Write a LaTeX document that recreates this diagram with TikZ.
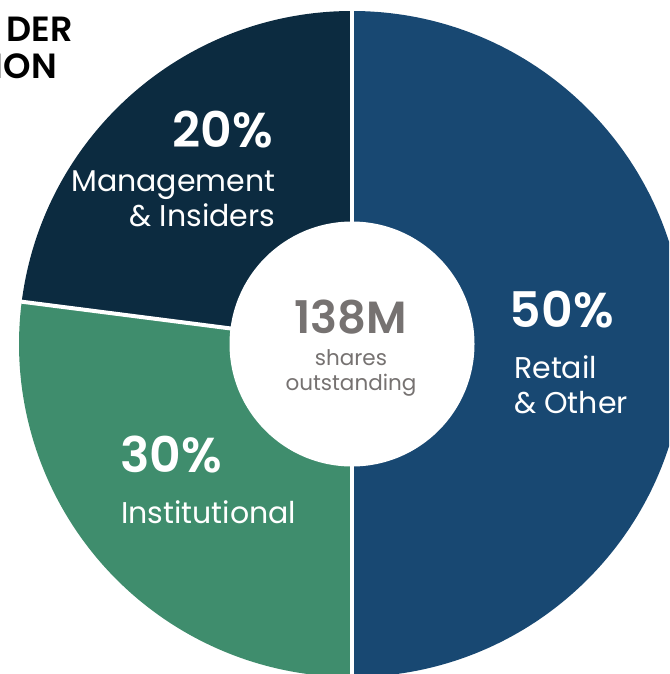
\documentclass[tikz,border=0pt]{standalone}
\usepackage{fontspec}
\setmainfont{Poppins}
\definecolor{navy}{HTML}{0C2B40}
\definecolor{blueseg}{HTML}{184872}
\definecolor{greenseg}{HTML}{3F8D6D}
\definecolor{greytxt}{HTML}{767271}
\tikzset{
  pct/.style={text=white,font=\fontsize{49}{49}\selectfont\fontspec{Poppins SemiBold},inner sep=0pt,anchor=base east},
  lab/.style={text=white,font=\fontsize{30}{35}\selectfont,inner sep=0pt,anchor=base west},
  head/.style={text=black,font=\fontsize{35}{35}\selectfont\fontspec{Poppins SemiBold},inner sep=0pt,anchor=base east},
}
\begin{document}
\begin{tikzpicture}[x=1pt,y=-1pt]
\useasboundingbox (0,0) rectangle (669,674);
\clip (0,0) rectangle (669,674);
\fill[white] (0,0) rectangle (669,674);
\coordinate (c) at (352,344);
\fill[blueseg] (c) -- ++(0,-333) arc[start angle=-90,end angle=90,radius=333] -- (c) -- cycle;
\fill[greenseg] (c) -- ++(0,333) arc[start angle=90,end angle=187.3,radius=333] -- (c) -- cycle;
\fill[navy] (c) -- ++(187.3:333) arc[start angle=187.3,end angle=270,radius=333] -- (c) -- cycle;
\draw[white,line width=4pt] (c) -- ++(0,-340);
\draw[white,line width=4pt] (c) -- ++(0,340);
\draw[white,line width=4pt] (c) -- ++(187.3:340);
\fill[white] (c) circle[radius=122.5];
\node[pct] (p20) at (273,147) {20\%};
\node[lab,anchor=base east] (l20) at (275.5,191) {Management};
\node[lab,anchor=base east] (l20b) at (275.5,226) {\& Insiders};
\node[pct] (p30) at (222,472) {30\%};
\node[lab] (l30) at (121,523) {Institutional};
\node[pct] (p50) at (614,327) {50\%};
\node[lab] (l50) at (514,378) {Retail};
\node[lab] (l50b) at (514,413) {\& Other};
\node[text=greytxt,font=\fontsize{45}{45}\selectfont\fontspec{Poppins SemiBold},inner sep=0pt,anchor=base] (tot) at (351,333) {138M};
\node[text=greytxt,font=\fontsize{21.5}{21.5}\selectfont,inner sep=0pt,anchor=base] (s1) at (351,365) {shares};
\node[text=greytxt,font=\fontsize{21.5}{21.5}\selectfont,inner sep=0pt,anchor=base] (s2) at (351,390) {outstanding};
\node[head] (h1) at (73,41.5) {DER};
\node[head] (h2) at (57,79) {ION};
\end{tikzpicture}
\end{document}
